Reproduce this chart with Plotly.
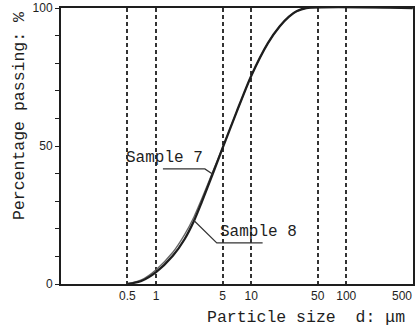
import math
import plotly.graph_objects as go

# ---- data ----
size_um = [0.5, 0.7, 1.0, 1.5, 2.0, 2.5, 3.0, 4.0, 5.0, 7.0, 10.0, 15.0, 20.0, 25.0,
           30.0, 38.0, 500.0]
sample7 = [0.0, 1.1, 4.3, 10.2, 16.3, 22.8, 29.4, 40.5, 49.2, 62.2, 75.4, 87.3, 93.4,
           96.9, 98.8, 100.0, 100.0]
sample8 = [0.0, 1.5, 5.2, 11.5, 18.0, 24.3, 30.6, 41.2, 49.5, 62.2, 75.4, 87.3, 93.4,
           96.9, 98.8, 100.0, 100.0]

x_tickvals = [0.5, 1, 5, 10, 50, 100, 500]
x_ticktext = ["0.5", "1", "5", "10", "50", "100", ""]
x_edge_label = "500"   # drawn just inside the right edge, as in the reference
y_tickvals = [0, 10, 20, 30, 40, 50, 60, 70, 80, 90, 100]
y_ticktext = ["0", "", "", "", "", "50", "", "", "", "", "100"]

# leader lines for the sample labels (data units: µm, %)
leader7_x = [1.18, 3.26, 3.95]
leader7_y = [41.7, 41.7, 39.8]
leader8_x = [2.5, 4.35, 13.2]
leader8_y = [23.0, 14.9, 14.9]

INK = "#1e1e1e"
MONO = "Liberation Mono, Courier New, monospace"
SANS = "Liberation Sans, Arial, sans-serif"

fig = go.Figure()
fig.add_trace(go.Scatter(x=size_um, y=sample8, mode="lines", name="Sample 8",
                         line=dict(color="#666666", width=1.3, shape="spline", smoothing=0.7),
                         hoverinfo="skip"))
fig.add_trace(go.Scatter(x=size_um, y=sample7, mode="lines", name="Sample 7",
                         line=dict(color=INK, width=2.3, shape="spline", smoothing=0.7),
                         hoverinfo="skip"))
for lx, ly in ((leader7_x, leader7_y), (leader8_x, leader8_y)):
    fig.add_trace(go.Scatter(x=lx, y=ly, mode="lines", showlegend=False,
                             line=dict(color="#333333", width=1.2), hoverinfo="skip"))

fig.update_layout(
    width=419, height=332,
    margin=dict(l=61, r=6, t=8, b=48, autoexpand=False),
    paper_bgcolor="white", plot_bgcolor="white",
    showlegend=False,
    xaxis=dict(type="log", range=[-1, math.log10(500) + 0.003], automargin=False,
               tickvals=x_tickvals, ticktext=x_ticktext, ticks="",
               tickfont=dict(family=SANS, size=12, color=INK),
               showgrid=True, gridcolor="#333333", gridwidth=1.5, griddash="4px,3px",
               showline=True, linecolor=INK, linewidth=2, mirror=True, zeroline=False),
    yaxis=dict(range=[0, 100], tickvals=y_tickvals, ticktext=y_ticktext, automargin=False,
               ticks="outside", ticklen=4, tickwidth=1.3, tickcolor=INK,
               tickfont=dict(family=SANS, size=12, color=INK),
               showgrid=False, showline=True, linecolor=INK, linewidth=2,
               mirror=True, zeroline=False),
    annotations=[
        dict(text=x_edge_label, xref="paper", yref="paper", x=0.969, y=-0.0435,
             showarrow=False, xanchor="center", yanchor="middle",
             font=dict(family=SANS, size=12, color=INK)),
        dict(text="Percentage passing: %", xref="paper", yref="paper",
             x=-0.1165, y=0.6087, textangle=-90, showarrow=False,
             xanchor="center", yanchor="middle",
             font=dict(family=MONO, size=16.5, color=INK)),
        dict(text="Particle size  d: \u03bcm", xref="paper", yref="paper",
             x=0.696, y=-0.123, showarrow=False, xanchor="center", yanchor="middle",
             font=dict(family=MONO, size=16.5, color=INK)),
        dict(text="Sample 7", xref="paper", yref="paper", x=0.294, y=0.4565,
             showarrow=False, xanchor="center", yanchor="middle",
             font=dict(family=MONO, size=16, color=INK)),
        dict(text="Sample 8", xref="paper", yref="paper", x=0.56, y=0.188,
             showarrow=False, xanchor="center", yanchor="middle",
             font=dict(family=MONO, size=16, color=INK)),
    ],
)

fig.write_html("out.html", config={"displayModeBar": False},
               post_script="document.body.style.margin='0';document.body.style.padding='0';")
